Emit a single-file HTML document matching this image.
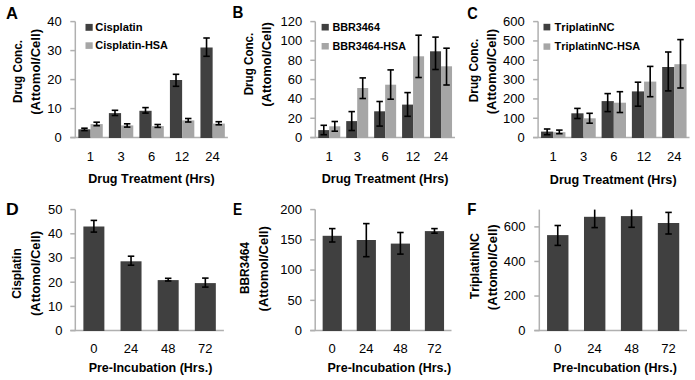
<!DOCTYPE html>
<html><head><meta charset="utf-8"><title>Figure</title>
<style>
html,body{margin:0;padding:0;background:#fff;width:695px;height:380px;overflow:hidden}
svg{display:block}
text{font-family:"Liberation Sans",sans-serif;font-kerning:none}
</style></head><body>
<svg width="695" height="380" viewBox="0 0 695 380">
<rect width="695" height="380" fill="#fff"/>
<line x1="75.3" y1="21.6" x2="75.3" y2="138.1" stroke="#b0b0b0" stroke-width="1.5"/>
<line x1="70.3" y1="137.6" x2="227.9" y2="137.6" stroke="#b0b0b0" stroke-width="1.5"/>
<rect x="78.36" y="129.3" width="12.2" height="8.7" fill="#404040"/>
<rect x="90.56" y="124.1" width="12.2" height="13.9" fill="#a6a6a6"/>
<rect x="108.88" y="113.1" width="12.2" height="24.9" fill="#404040"/>
<rect x="121.08" y="125.4" width="12.2" height="12.6" fill="#a6a6a6"/>
<rect x="139.4" y="110.8" width="12.2" height="27.2" fill="#404040"/>
<rect x="151.6" y="126.1" width="12.2" height="11.9" fill="#a6a6a6"/>
<rect x="169.92" y="80" width="12.2" height="58" fill="#404040"/>
<rect x="182.12" y="120.4" width="12.2" height="17.6" fill="#a6a6a6"/>
<rect x="200.44" y="47.5" width="12.2" height="90.5" fill="#404040"/>
<rect x="212.64" y="123.6" width="12.2" height="14.4" fill="#a6a6a6"/>
<line x1="84.46" y1="128.2" x2="84.46" y2="130.6" stroke="#000" stroke-width="1.6"/>
<line x1="81.21" y1="128.2" x2="87.71" y2="128.2" stroke="#000" stroke-width="1.6"/>
<line x1="81.21" y1="130.6" x2="87.71" y2="130.6" stroke="#000" stroke-width="1.6"/>
<line x1="96.66" y1="122.2" x2="96.66" y2="125.7" stroke="#000" stroke-width="1.6"/>
<line x1="93.41" y1="122.2" x2="99.91" y2="122.2" stroke="#000" stroke-width="1.6"/>
<line x1="93.41" y1="125.7" x2="99.91" y2="125.7" stroke="#000" stroke-width="1.6"/>
<line x1="114.98" y1="110.3" x2="114.98" y2="115.5" stroke="#000" stroke-width="1.6"/>
<line x1="111.73" y1="110.3" x2="118.23" y2="110.3" stroke="#000" stroke-width="1.6"/>
<line x1="111.73" y1="115.5" x2="118.23" y2="115.5" stroke="#000" stroke-width="1.6"/>
<line x1="127.18" y1="123.8" x2="127.18" y2="127.1" stroke="#000" stroke-width="1.6"/>
<line x1="123.93" y1="123.8" x2="130.43" y2="123.8" stroke="#000" stroke-width="1.6"/>
<line x1="123.93" y1="127.1" x2="130.43" y2="127.1" stroke="#000" stroke-width="1.6"/>
<line x1="145.5" y1="107.6" x2="145.5" y2="113.1" stroke="#000" stroke-width="1.6"/>
<line x1="142.25" y1="107.6" x2="148.75" y2="107.6" stroke="#000" stroke-width="1.6"/>
<line x1="142.25" y1="113.1" x2="148.75" y2="113.1" stroke="#000" stroke-width="1.6"/>
<line x1="157.7" y1="124.5" x2="157.7" y2="127.4" stroke="#000" stroke-width="1.6"/>
<line x1="154.45" y1="124.5" x2="160.95" y2="124.5" stroke="#000" stroke-width="1.6"/>
<line x1="154.45" y1="127.4" x2="160.95" y2="127.4" stroke="#000" stroke-width="1.6"/>
<line x1="176.02" y1="74.3" x2="176.02" y2="86.3" stroke="#000" stroke-width="1.6"/>
<line x1="172.77" y1="74.3" x2="179.27" y2="74.3" stroke="#000" stroke-width="1.6"/>
<line x1="172.77" y1="86.3" x2="179.27" y2="86.3" stroke="#000" stroke-width="1.6"/>
<line x1="188.22" y1="118.5" x2="188.22" y2="122" stroke="#000" stroke-width="1.6"/>
<line x1="184.97" y1="118.5" x2="191.47" y2="118.5" stroke="#000" stroke-width="1.6"/>
<line x1="184.97" y1="122" x2="191.47" y2="122" stroke="#000" stroke-width="1.6"/>
<line x1="206.54" y1="38" x2="206.54" y2="56.3" stroke="#000" stroke-width="1.6"/>
<line x1="203.29" y1="38" x2="209.79" y2="38" stroke="#000" stroke-width="1.6"/>
<line x1="203.29" y1="56.3" x2="209.79" y2="56.3" stroke="#000" stroke-width="1.6"/>
<line x1="218.74" y1="121.7" x2="218.74" y2="124.8" stroke="#000" stroke-width="1.6"/>
<line x1="215.49" y1="121.7" x2="221.99" y2="121.7" stroke="#000" stroke-width="1.6"/>
<line x1="215.49" y1="124.8" x2="221.99" y2="124.8" stroke="#000" stroke-width="1.6"/>
<line x1="70.3" y1="137.6" x2="75.3" y2="137.6" stroke="#b0b0b0" stroke-width="1.5"/>
<text transform="translate(54.58 141.9) scale(1.0400 1)" font-size="12.5" font-weight="normal" fill="#000">0</text>
<line x1="70.3" y1="108.6" x2="75.3" y2="108.6" stroke="#b0b0b0" stroke-width="1.5"/>
<text transform="translate(47.35 112.9) scale(1.0400 1)" font-size="12.5" font-weight="normal" fill="#000">10</text>
<line x1="70.3" y1="79.6" x2="75.3" y2="79.6" stroke="#b0b0b0" stroke-width="1.5"/>
<text transform="translate(47.35 83.9) scale(1.0400 1)" font-size="12.5" font-weight="normal" fill="#000">20</text>
<line x1="70.3" y1="50.6" x2="75.3" y2="50.6" stroke="#b0b0b0" stroke-width="1.5"/>
<text transform="translate(47.35 54.9) scale(1.0400 1)" font-size="12.5" font-weight="normal" fill="#000">30</text>
<line x1="70.3" y1="21.6" x2="75.3" y2="21.6" stroke="#b0b0b0" stroke-width="1.5"/>
<text transform="translate(47.35 25.9) scale(1.0400 1)" font-size="12.5" font-weight="normal" fill="#000">40</text>
<text transform="translate(86.77 160.6) scale(1.0400 1)" font-size="12.5" font-weight="normal" fill="#000">1</text>
<text transform="translate(117.5 160.6) scale(1.0400 1)" font-size="12.5" font-weight="normal" fill="#000">3</text>
<text transform="translate(147.94 160.6) scale(1.0400 1)" font-size="12.5" font-weight="normal" fill="#000">6</text>
<text transform="translate(174.72 160.6) scale(1.0400 1)" font-size="12.5" font-weight="normal" fill="#000">12</text>
<text transform="translate(205.27 160.6) scale(1.0400 1)" font-size="12.5" font-weight="normal" fill="#000">24</text>
<text transform="translate(88.16 182.6) scale(1.0077 1)" font-size="12.5" font-weight="bold" fill="#000">Drug Treatment (Hrs)</text>
<text transform="translate(21.8 102.98) rotate(-90) scale(0.9741 1)" font-size="12" font-weight="bold" fill="#000">Drug Conc.</text>
<text transform="translate(39.6 114.75) rotate(-90) scale(1.0909 1)" font-size="12" font-weight="bold" fill="#000">(Attomol/Cell)</text>
<text transform="translate(5.89 18.5) scale(0.9509 1)" font-size="17.4" font-weight="bold" fill="#000">A</text>
<rect x="85.5" y="23.9" width="7.2" height="6.9" fill="#404040"/>
<text transform="translate(95.34 30.8) scale(1.0657 1)" font-size="10.5" font-weight="bold" fill="#000">Cisplatin</text>
<rect x="85.5" y="42.3" width="7.2" height="6.6" fill="#a6a6a6"/>
<text transform="translate(95.35 48.8) scale(1.0390 1)" font-size="10.5" font-weight="bold" fill="#000">Cisplatin-HSA</text>
<line x1="315.3" y1="21.6" x2="315.3" y2="138.1" stroke="#b0b0b0" stroke-width="1.5"/>
<line x1="310.3" y1="137.6" x2="455" y2="137.6" stroke="#b0b0b0" stroke-width="1.5"/>
<rect x="318.27" y="130.1" width="11" height="7.9" fill="#404040"/>
<rect x="329.27" y="126.3" width="11" height="11.7" fill="#a6a6a6"/>
<rect x="346.21" y="121.1" width="11" height="16.9" fill="#404040"/>
<rect x="357.21" y="88" width="11" height="50" fill="#a6a6a6"/>
<rect x="374.15" y="111.3" width="11" height="26.7" fill="#404040"/>
<rect x="385.15" y="84.7" width="11" height="53.3" fill="#a6a6a6"/>
<rect x="402.09" y="104.6" width="11" height="33.4" fill="#404040"/>
<rect x="413.09" y="56.3" width="11" height="81.7" fill="#a6a6a6"/>
<rect x="430.03" y="51.3" width="11" height="86.7" fill="#404040"/>
<rect x="441.03" y="66.3" width="11" height="71.7" fill="#a6a6a6"/>
<line x1="323.77" y1="125.3" x2="323.77" y2="134.7" stroke="#000" stroke-width="1.6"/>
<line x1="320.52" y1="125.3" x2="327.02" y2="125.3" stroke="#000" stroke-width="1.6"/>
<line x1="320.52" y1="134.7" x2="327.02" y2="134.7" stroke="#000" stroke-width="1.6"/>
<line x1="334.77" y1="121.5" x2="334.77" y2="131.2" stroke="#000" stroke-width="1.6"/>
<line x1="331.52" y1="121.5" x2="338.02" y2="121.5" stroke="#000" stroke-width="1.6"/>
<line x1="331.52" y1="131.2" x2="338.02" y2="131.2" stroke="#000" stroke-width="1.6"/>
<line x1="351.71" y1="111.6" x2="351.71" y2="130.5" stroke="#000" stroke-width="1.6"/>
<line x1="348.46" y1="111.6" x2="354.96" y2="111.6" stroke="#000" stroke-width="1.6"/>
<line x1="348.46" y1="130.5" x2="354.96" y2="130.5" stroke="#000" stroke-width="1.6"/>
<line x1="362.71" y1="77.9" x2="362.71" y2="98.5" stroke="#000" stroke-width="1.6"/>
<line x1="359.46" y1="77.9" x2="365.96" y2="77.9" stroke="#000" stroke-width="1.6"/>
<line x1="359.46" y1="98.5" x2="365.96" y2="98.5" stroke="#000" stroke-width="1.6"/>
<line x1="379.65" y1="101.5" x2="379.65" y2="126.1" stroke="#000" stroke-width="1.6"/>
<line x1="376.4" y1="101.5" x2="382.9" y2="101.5" stroke="#000" stroke-width="1.6"/>
<line x1="376.4" y1="126.1" x2="382.9" y2="126.1" stroke="#000" stroke-width="1.6"/>
<line x1="390.65" y1="69.9" x2="390.65" y2="99.2" stroke="#000" stroke-width="1.6"/>
<line x1="387.4" y1="69.9" x2="393.9" y2="69.9" stroke="#000" stroke-width="1.6"/>
<line x1="387.4" y1="99.2" x2="393.9" y2="99.2" stroke="#000" stroke-width="1.6"/>
<line x1="407.59" y1="92.6" x2="407.59" y2="116.3" stroke="#000" stroke-width="1.6"/>
<line x1="404.34" y1="92.6" x2="410.84" y2="92.6" stroke="#000" stroke-width="1.6"/>
<line x1="404.34" y1="116.3" x2="410.84" y2="116.3" stroke="#000" stroke-width="1.6"/>
<line x1="418.59" y1="35.2" x2="418.59" y2="77.5" stroke="#000" stroke-width="1.6"/>
<line x1="415.34" y1="35.2" x2="421.84" y2="35.2" stroke="#000" stroke-width="1.6"/>
<line x1="415.34" y1="77.5" x2="421.84" y2="77.5" stroke="#000" stroke-width="1.6"/>
<line x1="435.53" y1="37.1" x2="435.53" y2="69.5" stroke="#000" stroke-width="1.6"/>
<line x1="432.28" y1="37.1" x2="438.78" y2="37.1" stroke="#000" stroke-width="1.6"/>
<line x1="432.28" y1="69.5" x2="438.78" y2="69.5" stroke="#000" stroke-width="1.6"/>
<line x1="446.53" y1="48.2" x2="446.53" y2="85" stroke="#000" stroke-width="1.6"/>
<line x1="443.28" y1="48.2" x2="449.78" y2="48.2" stroke="#000" stroke-width="1.6"/>
<line x1="443.28" y1="85" x2="449.78" y2="85" stroke="#000" stroke-width="1.6"/>
<line x1="310.3" y1="137.6" x2="315.3" y2="137.6" stroke="#b0b0b0" stroke-width="1.5"/>
<text transform="translate(294.88 141.9) scale(1.0400 1)" font-size="12.5" font-weight="normal" fill="#000">0</text>
<line x1="310.3" y1="118.27" x2="315.3" y2="118.27" stroke="#b0b0b0" stroke-width="1.5"/>
<text transform="translate(287.65 122.57) scale(1.0400 1)" font-size="12.5" font-weight="normal" fill="#000">20</text>
<line x1="310.3" y1="98.93" x2="315.3" y2="98.93" stroke="#b0b0b0" stroke-width="1.5"/>
<text transform="translate(287.65 103.23) scale(1.0400 1)" font-size="12.5" font-weight="normal" fill="#000">40</text>
<line x1="310.3" y1="79.6" x2="315.3" y2="79.6" stroke="#b0b0b0" stroke-width="1.5"/>
<text transform="translate(287.65 83.9) scale(1.0400 1)" font-size="12.5" font-weight="normal" fill="#000">60</text>
<line x1="310.3" y1="60.27" x2="315.3" y2="60.27" stroke="#b0b0b0" stroke-width="1.5"/>
<text transform="translate(287.65 64.57) scale(1.0400 1)" font-size="12.5" font-weight="normal" fill="#000">80</text>
<line x1="310.3" y1="40.93" x2="315.3" y2="40.93" stroke="#b0b0b0" stroke-width="1.5"/>
<text transform="translate(280.42 45.23) scale(1.0400 1)" font-size="12.5" font-weight="normal" fill="#000">100</text>
<line x1="310.3" y1="21.6" x2="315.3" y2="21.6" stroke="#b0b0b0" stroke-width="1.5"/>
<text transform="translate(280.42 25.9) scale(1.0400 1)" font-size="12.5" font-weight="normal" fill="#000">120</text>
<text transform="translate(325.48 160.8) scale(1.0400 1)" font-size="12.5" font-weight="normal" fill="#000">1</text>
<text transform="translate(353.63 160.8) scale(1.0400 1)" font-size="12.5" font-weight="normal" fill="#000">3</text>
<text transform="translate(381.49 160.8) scale(1.0400 1)" font-size="12.5" font-weight="normal" fill="#000">6</text>
<text transform="translate(405.69 160.8) scale(1.0400 1)" font-size="12.5" font-weight="normal" fill="#000">12</text>
<text transform="translate(433.66 160.8) scale(1.0400 1)" font-size="12.5" font-weight="normal" fill="#000">24</text>
<text transform="translate(321.65 183.2) scale(1.0109 1)" font-size="12.5" font-weight="bold" fill="#000">Drug Treatment (Hrs)</text>
<text transform="translate(253.3 95.28) rotate(-90) scale(0.9693 1)" font-size="12" font-weight="bold" fill="#000">Drug Conc.</text>
<text transform="translate(270.5 106.64) rotate(-90) scale(1.0728 1)" font-size="12" font-weight="bold" fill="#000">(Attomol/Cell)</text>
<text transform="translate(232.59 18.4) scale(0.8670 1)" font-size="17.4" font-weight="bold" fill="#000">B</text>
<rect x="321.6" y="23.9" width="7.2" height="6.6" fill="#404040"/>
<text transform="translate(332.38 30.5) scale(1.0320 1)" font-size="10.5" font-weight="bold" fill="#000">BBR3464</text>
<rect x="321.6" y="43" width="7.2" height="6.5" fill="#a6a6a6"/>
<text transform="translate(332.38 49.5) scale(1.0269 1)" font-size="10.5" font-weight="bold" fill="#000">BBR3464-HSA</text>
<line x1="538.1" y1="21.6" x2="538.1" y2="138.1" stroke="#b0b0b0" stroke-width="1.5"/>
<line x1="533.1" y1="137.6" x2="689.5" y2="137.6" stroke="#b0b0b0" stroke-width="1.5"/>
<rect x="541.04" y="131.6" width="12.2" height="6.4" fill="#404040"/>
<rect x="553.24" y="132.2" width="12.2" height="5.8" fill="#a6a6a6"/>
<rect x="571.32" y="113.3" width="12.2" height="24.7" fill="#404040"/>
<rect x="583.52" y="118.3" width="12.2" height="19.7" fill="#a6a6a6"/>
<rect x="601.6" y="101.1" width="12.2" height="36.9" fill="#404040"/>
<rect x="613.8" y="102.7" width="12.2" height="35.3" fill="#a6a6a6"/>
<rect x="631.88" y="91.4" width="12.2" height="46.6" fill="#404040"/>
<rect x="644.08" y="81.6" width="12.2" height="56.4" fill="#a6a6a6"/>
<rect x="662.16" y="67" width="12.2" height="71" fill="#404040"/>
<rect x="674.36" y="64.2" width="12.2" height="73.8" fill="#a6a6a6"/>
<line x1="547.14" y1="129" x2="547.14" y2="134.7" stroke="#000" stroke-width="1.6"/>
<line x1="543.89" y1="129" x2="550.39" y2="129" stroke="#000" stroke-width="1.6"/>
<line x1="543.89" y1="134.7" x2="550.39" y2="134.7" stroke="#000" stroke-width="1.6"/>
<line x1="559.34" y1="130.1" x2="559.34" y2="133.7" stroke="#000" stroke-width="1.6"/>
<line x1="556.09" y1="130.1" x2="562.59" y2="130.1" stroke="#000" stroke-width="1.6"/>
<line x1="556.09" y1="133.7" x2="562.59" y2="133.7" stroke="#000" stroke-width="1.6"/>
<line x1="577.42" y1="108.4" x2="577.42" y2="118.5" stroke="#000" stroke-width="1.6"/>
<line x1="574.17" y1="108.4" x2="580.67" y2="108.4" stroke="#000" stroke-width="1.6"/>
<line x1="574.17" y1="118.5" x2="580.67" y2="118.5" stroke="#000" stroke-width="1.6"/>
<line x1="589.62" y1="113.3" x2="589.62" y2="123.2" stroke="#000" stroke-width="1.6"/>
<line x1="586.37" y1="113.3" x2="592.87" y2="113.3" stroke="#000" stroke-width="1.6"/>
<line x1="586.37" y1="123.2" x2="592.87" y2="123.2" stroke="#000" stroke-width="1.6"/>
<line x1="607.7" y1="93.6" x2="607.7" y2="111.6" stroke="#000" stroke-width="1.6"/>
<line x1="604.45" y1="93.6" x2="610.95" y2="93.6" stroke="#000" stroke-width="1.6"/>
<line x1="604.45" y1="111.6" x2="610.95" y2="111.6" stroke="#000" stroke-width="1.6"/>
<line x1="619.9" y1="91.7" x2="619.9" y2="112.5" stroke="#000" stroke-width="1.6"/>
<line x1="616.65" y1="91.7" x2="623.15" y2="91.7" stroke="#000" stroke-width="1.6"/>
<line x1="616.65" y1="112.5" x2="623.15" y2="112.5" stroke="#000" stroke-width="1.6"/>
<line x1="637.98" y1="82.2" x2="637.98" y2="106.2" stroke="#000" stroke-width="1.6"/>
<line x1="634.73" y1="82.2" x2="641.23" y2="82.2" stroke="#000" stroke-width="1.6"/>
<line x1="634.73" y1="106.2" x2="641.23" y2="106.2" stroke="#000" stroke-width="1.6"/>
<line x1="650.18" y1="66.4" x2="650.18" y2="96.7" stroke="#000" stroke-width="1.6"/>
<line x1="646.93" y1="66.4" x2="653.43" y2="66.4" stroke="#000" stroke-width="1.6"/>
<line x1="646.93" y1="96.7" x2="653.43" y2="96.7" stroke="#000" stroke-width="1.6"/>
<line x1="668.26" y1="52" x2="668.26" y2="90.9" stroke="#000" stroke-width="1.6"/>
<line x1="665.01" y1="52" x2="671.51" y2="52" stroke="#000" stroke-width="1.6"/>
<line x1="665.01" y1="90.9" x2="671.51" y2="90.9" stroke="#000" stroke-width="1.6"/>
<line x1="680.46" y1="39.6" x2="680.46" y2="88" stroke="#000" stroke-width="1.6"/>
<line x1="677.21" y1="39.6" x2="683.71" y2="39.6" stroke="#000" stroke-width="1.6"/>
<line x1="677.21" y1="88" x2="683.71" y2="88" stroke="#000" stroke-width="1.6"/>
<line x1="533.1" y1="137.6" x2="538.1" y2="137.6" stroke="#b0b0b0" stroke-width="1.5"/>
<text transform="translate(517.58 141.9) scale(1.0400 1)" font-size="12.5" font-weight="normal" fill="#000">0</text>
<line x1="533.1" y1="118.27" x2="538.1" y2="118.27" stroke="#b0b0b0" stroke-width="1.5"/>
<text transform="translate(503.12 122.57) scale(1.0400 1)" font-size="12.5" font-weight="normal" fill="#000">100</text>
<line x1="533.1" y1="98.93" x2="538.1" y2="98.93" stroke="#b0b0b0" stroke-width="1.5"/>
<text transform="translate(503.12 103.23) scale(1.0400 1)" font-size="12.5" font-weight="normal" fill="#000">200</text>
<line x1="533.1" y1="79.6" x2="538.1" y2="79.6" stroke="#b0b0b0" stroke-width="1.5"/>
<text transform="translate(503.12 83.9) scale(1.0400 1)" font-size="12.5" font-weight="normal" fill="#000">300</text>
<line x1="533.1" y1="60.27" x2="538.1" y2="60.27" stroke="#b0b0b0" stroke-width="1.5"/>
<text transform="translate(503.12 64.57) scale(1.0400 1)" font-size="12.5" font-weight="normal" fill="#000">400</text>
<line x1="533.1" y1="40.93" x2="538.1" y2="40.93" stroke="#b0b0b0" stroke-width="1.5"/>
<text transform="translate(503.12 45.23) scale(1.0400 1)" font-size="12.5" font-weight="normal" fill="#000">500</text>
<line x1="533.1" y1="21.6" x2="538.1" y2="21.6" stroke="#b0b0b0" stroke-width="1.5"/>
<text transform="translate(503.12 25.9) scale(1.0400 1)" font-size="12.5" font-weight="normal" fill="#000">600</text>
<text transform="translate(549.45 160.6) scale(1.0400 1)" font-size="12.5" font-weight="normal" fill="#000">1</text>
<text transform="translate(579.94 160.6) scale(1.0400 1)" font-size="12.5" font-weight="normal" fill="#000">3</text>
<text transform="translate(610.14 160.6) scale(1.0400 1)" font-size="12.5" font-weight="normal" fill="#000">6</text>
<text transform="translate(636.68 160.6) scale(1.0400 1)" font-size="12.5" font-weight="normal" fill="#000">12</text>
<text transform="translate(666.99 160.6) scale(1.0400 1)" font-size="12.5" font-weight="normal" fill="#000">24</text>
<text transform="translate(549.86 183.5) scale(1.0085 1)" font-size="12.5" font-weight="bold" fill="#000">Drug Treatment (Hrs)</text>
<text transform="translate(477.8 102.19) rotate(-90) scale(0.9820 1)" font-size="12" font-weight="bold" fill="#000">Drug Conc.</text>
<text transform="translate(495.5 114.35) rotate(-90) scale(1.0857 1)" font-size="12" font-weight="bold" fill="#000">(Attomol/Cell)</text>
<text transform="translate(467.3 18.5) scale(0.8351 1)" font-size="17.4" font-weight="bold" fill="#000">C</text>
<rect x="543.5" y="23.8" width="6.8" height="6.6" fill="#404040"/>
<text transform="translate(554.57 30.5) scale(1.0610 1)" font-size="10.5" font-weight="bold" fill="#000">TriplatinNC</text>
<rect x="543.5" y="43.4" width="6.8" height="6.4" fill="#a6a6a6"/>
<text transform="translate(554.58 49.8) scale(1.0397 1)" font-size="10.5" font-weight="bold" fill="#000">TriplatinNC-HSA</text>
<line x1="75.3" y1="209.6" x2="75.3" y2="331.1" stroke="#b0b0b0" stroke-width="1.5"/>
<line x1="70.3" y1="330.6" x2="223.9" y2="330.6" stroke="#b0b0b0" stroke-width="1.5"/>
<rect x="83.38" y="226.5" width="21" height="104.5" fill="#404040"/>
<rect x="120.53" y="261.3" width="21" height="69.7" fill="#404040"/>
<rect x="157.68" y="280.1" width="21" height="50.9" fill="#404040"/>
<rect x="194.83" y="283.1" width="21" height="47.9" fill="#404040"/>
<line x1="93.88" y1="220.4" x2="93.88" y2="232.1" stroke="#000" stroke-width="1.6"/>
<line x1="90.62" y1="220.4" x2="97.12" y2="220.4" stroke="#000" stroke-width="1.6"/>
<line x1="90.62" y1="232.1" x2="97.12" y2="232.1" stroke="#000" stroke-width="1.6"/>
<line x1="131.03" y1="256.2" x2="131.03" y2="265.2" stroke="#000" stroke-width="1.6"/>
<line x1="127.78" y1="256.2" x2="134.28" y2="256.2" stroke="#000" stroke-width="1.6"/>
<line x1="127.78" y1="265.2" x2="134.28" y2="265.2" stroke="#000" stroke-width="1.6"/>
<line x1="168.18" y1="278.3" x2="168.18" y2="281" stroke="#000" stroke-width="1.6"/>
<line x1="164.93" y1="278.3" x2="171.43" y2="278.3" stroke="#000" stroke-width="1.6"/>
<line x1="164.93" y1="281" x2="171.43" y2="281" stroke="#000" stroke-width="1.6"/>
<line x1="205.33" y1="278.1" x2="205.33" y2="287.1" stroke="#000" stroke-width="1.6"/>
<line x1="202.08" y1="278.1" x2="208.58" y2="278.1" stroke="#000" stroke-width="1.6"/>
<line x1="202.08" y1="287.1" x2="208.58" y2="287.1" stroke="#000" stroke-width="1.6"/>
<line x1="70.3" y1="330.6" x2="75.3" y2="330.6" stroke="#b0b0b0" stroke-width="1.5"/>
<text transform="translate(55.18 334.9) scale(1.0400 1)" font-size="12.5" font-weight="normal" fill="#000">0</text>
<line x1="70.3" y1="306.4" x2="75.3" y2="306.4" stroke="#b0b0b0" stroke-width="1.5"/>
<text transform="translate(47.95 310.7) scale(1.0400 1)" font-size="12.5" font-weight="normal" fill="#000">10</text>
<line x1="70.3" y1="282.2" x2="75.3" y2="282.2" stroke="#b0b0b0" stroke-width="1.5"/>
<text transform="translate(47.95 286.5) scale(1.0400 1)" font-size="12.5" font-weight="normal" fill="#000">20</text>
<line x1="70.3" y1="258" x2="75.3" y2="258" stroke="#b0b0b0" stroke-width="1.5"/>
<text transform="translate(47.95 262.3) scale(1.0400 1)" font-size="12.5" font-weight="normal" fill="#000">30</text>
<line x1="70.3" y1="233.8" x2="75.3" y2="233.8" stroke="#b0b0b0" stroke-width="1.5"/>
<text transform="translate(47.95 238.1) scale(1.0400 1)" font-size="12.5" font-weight="normal" fill="#000">40</text>
<line x1="70.3" y1="209.6" x2="75.3" y2="209.6" stroke="#b0b0b0" stroke-width="1.5"/>
<text transform="translate(47.95 213.9) scale(1.0400 1)" font-size="12.5" font-weight="normal" fill="#000">50</text>
<text transform="translate(90.26 353.3) scale(1.0400 1)" font-size="12.5" font-weight="normal" fill="#000">0</text>
<text transform="translate(123.66 353.3) scale(1.0400 1)" font-size="12.5" font-weight="normal" fill="#000">24</text>
<text transform="translate(161.08 353.3) scale(1.0400 1)" font-size="12.5" font-weight="normal" fill="#000">48</text>
<text transform="translate(198.09 353.3) scale(1.0400 1)" font-size="12.5" font-weight="normal" fill="#000">72</text>
<text transform="translate(88.66 371.7) scale(1.0003 1)" font-size="12.5" font-weight="bold" fill="#000">Pre-Incubation (Hrs.)</text>
<text transform="translate(20.8 298.79) rotate(-90) scale(0.9973 1)" font-size="12" font-weight="bold" fill="#000">Cisplatin</text>
<text transform="translate(39.5 316.05) rotate(-90) scale(1.0818 1)" font-size="12" font-weight="bold" fill="#000">(Attomol/Cell)</text>
<text transform="translate(5.92 214.9) scale(1.0121 1)" font-size="17.4" font-weight="bold" fill="#000">D</text>
<line x1="315.2" y1="209.6" x2="315.2" y2="331.1" stroke="#b0b0b0" stroke-width="1.5"/>
<line x1="310.2" y1="330.6" x2="451.5" y2="330.6" stroke="#b0b0b0" stroke-width="1.5"/>
<rect x="322.64" y="235.8" width="19.2" height="95.2" fill="#404040"/>
<rect x="356.71" y="240" width="19.2" height="91" fill="#404040"/>
<rect x="390.79" y="243.6" width="19.2" height="87.4" fill="#404040"/>
<rect x="424.86" y="231.1" width="19.2" height="99.9" fill="#404040"/>
<line x1="332.24" y1="228.6" x2="332.24" y2="242" stroke="#000" stroke-width="1.6"/>
<line x1="328.99" y1="228.6" x2="335.49" y2="228.6" stroke="#000" stroke-width="1.6"/>
<line x1="328.99" y1="242" x2="335.49" y2="242" stroke="#000" stroke-width="1.6"/>
<line x1="366.31" y1="223.6" x2="366.31" y2="256.7" stroke="#000" stroke-width="1.6"/>
<line x1="363.06" y1="223.6" x2="369.56" y2="223.6" stroke="#000" stroke-width="1.6"/>
<line x1="363.06" y1="256.7" x2="369.56" y2="256.7" stroke="#000" stroke-width="1.6"/>
<line x1="400.39" y1="232.5" x2="400.39" y2="254.1" stroke="#000" stroke-width="1.6"/>
<line x1="397.14" y1="232.5" x2="403.64" y2="232.5" stroke="#000" stroke-width="1.6"/>
<line x1="397.14" y1="254.1" x2="403.64" y2="254.1" stroke="#000" stroke-width="1.6"/>
<line x1="434.46" y1="228.6" x2="434.46" y2="233.2" stroke="#000" stroke-width="1.6"/>
<line x1="431.21" y1="228.6" x2="437.71" y2="228.6" stroke="#000" stroke-width="1.6"/>
<line x1="431.21" y1="233.2" x2="437.71" y2="233.2" stroke="#000" stroke-width="1.6"/>
<line x1="310.2" y1="330.6" x2="315.2" y2="330.6" stroke="#b0b0b0" stroke-width="1.5"/>
<text transform="translate(294.78 334.9) scale(1.0400 1)" font-size="12.5" font-weight="normal" fill="#000">0</text>
<line x1="310.2" y1="300.35" x2="315.2" y2="300.35" stroke="#b0b0b0" stroke-width="1.5"/>
<text transform="translate(287.55 304.65) scale(1.0400 1)" font-size="12.5" font-weight="normal" fill="#000">50</text>
<line x1="310.2" y1="270.1" x2="315.2" y2="270.1" stroke="#b0b0b0" stroke-width="1.5"/>
<text transform="translate(280.32 274.4) scale(1.0400 1)" font-size="12.5" font-weight="normal" fill="#000">100</text>
<line x1="310.2" y1="239.85" x2="315.2" y2="239.85" stroke="#b0b0b0" stroke-width="1.5"/>
<text transform="translate(280.32 244.15) scale(1.0400 1)" font-size="12.5" font-weight="normal" fill="#000">150</text>
<line x1="310.2" y1="209.6" x2="315.2" y2="209.6" stroke="#b0b0b0" stroke-width="1.5"/>
<text transform="translate(280.32 213.9) scale(1.0400 1)" font-size="12.5" font-weight="normal" fill="#000">200</text>
<text transform="translate(328.62 353.3) scale(1.0400 1)" font-size="12.5" font-weight="normal" fill="#000">0</text>
<text transform="translate(358.95 353.3) scale(1.0400 1)" font-size="12.5" font-weight="normal" fill="#000">24</text>
<text transform="translate(393.29 353.3) scale(1.0400 1)" font-size="12.5" font-weight="normal" fill="#000">48</text>
<text transform="translate(427.23 353.3) scale(1.0400 1)" font-size="12.5" font-weight="normal" fill="#000">72</text>
<text transform="translate(327.46 371.7) scale(1.0019 1)" font-size="12.5" font-weight="bold" fill="#000">Pre-Incubation (Hrs.)</text>
<text transform="translate(249.2 294.09) rotate(-90) scale(0.9879 1)" font-size="12" font-weight="bold" fill="#000">BBR3464</text>
<text transform="translate(267.5 311.45) rotate(-90) scale(1.0844 1)" font-size="12" font-weight="bold" fill="#000">(Attomol/Cell)</text>
<text transform="translate(232.88 215) scale(0.7888 1)" font-size="17.4" font-weight="bold" fill="#000">E</text>
<line x1="539.3" y1="209.6" x2="539.3" y2="331.1" stroke="#b0b0b0" stroke-width="1.5"/>
<line x1="534.3" y1="330.6" x2="687" y2="330.6" stroke="#b0b0b0" stroke-width="1.5"/>
<rect x="547.06" y="235.1" width="21.4" height="95.9" fill="#404040"/>
<rect x="583.99" y="216.8" width="21.4" height="114.2" fill="#404040"/>
<rect x="620.91" y="216.1" width="21.4" height="114.9" fill="#404040"/>
<rect x="657.84" y="223" width="21.4" height="108" fill="#404040"/>
<line x1="557.76" y1="225.5" x2="557.76" y2="245.4" stroke="#000" stroke-width="1.6"/>
<line x1="554.51" y1="225.5" x2="561.01" y2="225.5" stroke="#000" stroke-width="1.6"/>
<line x1="554.51" y1="245.4" x2="561.01" y2="245.4" stroke="#000" stroke-width="1.6"/>
<line x1="594.69" y1="209.6" x2="594.69" y2="227.6" stroke="#000" stroke-width="1.6"/>
<line x1="591.44" y1="227.6" x2="597.94" y2="227.6" stroke="#000" stroke-width="1.6"/>
<line x1="631.61" y1="209.6" x2="631.61" y2="227.3" stroke="#000" stroke-width="1.6"/>
<line x1="628.36" y1="227.3" x2="634.86" y2="227.3" stroke="#000" stroke-width="1.6"/>
<line x1="668.54" y1="212.4" x2="668.54" y2="234" stroke="#000" stroke-width="1.6"/>
<line x1="665.29" y1="212.4" x2="671.79" y2="212.4" stroke="#000" stroke-width="1.6"/>
<line x1="665.29" y1="234" x2="671.79" y2="234" stroke="#000" stroke-width="1.6"/>
<line x1="534.3" y1="330.6" x2="539.3" y2="330.6" stroke="#b0b0b0" stroke-width="1.5"/>
<text transform="translate(518.28 334.9) scale(1.0400 1)" font-size="12.5" font-weight="normal" fill="#000">0</text>
<line x1="534.3" y1="296.03" x2="539.3" y2="296.03" stroke="#b0b0b0" stroke-width="1.5"/>
<text transform="translate(503.82 300.33) scale(1.0400 1)" font-size="12.5" font-weight="normal" fill="#000">200</text>
<line x1="534.3" y1="261.46" x2="539.3" y2="261.46" stroke="#b0b0b0" stroke-width="1.5"/>
<text transform="translate(503.82 265.76) scale(1.0400 1)" font-size="12.5" font-weight="normal" fill="#000">400</text>
<line x1="534.3" y1="226.89" x2="539.3" y2="226.89" stroke="#b0b0b0" stroke-width="1.5"/>
<text transform="translate(503.82 231.19) scale(1.0400 1)" font-size="12.5" font-weight="normal" fill="#000">600</text>
<text transform="translate(554.15 353.3) scale(1.0400 1)" font-size="12.5" font-weight="normal" fill="#000">0</text>
<text transform="translate(587.32 353.3) scale(1.0400 1)" font-size="12.5" font-weight="normal" fill="#000">24</text>
<text transform="translate(624.52 353.3) scale(1.0400 1)" font-size="12.5" font-weight="normal" fill="#000">48</text>
<text transform="translate(661.3 353.3) scale(1.0400 1)" font-size="12.5" font-weight="normal" fill="#000">72</text>
<text transform="translate(552.96 371.8) scale(1.0044 1)" font-size="12.5" font-weight="bold" fill="#000">Pre-Incubation (Hrs.)</text>
<text transform="translate(478.8 299.34) rotate(-90) scale(1.0249 1)" font-size="12" font-weight="bold" fill="#000">TriplatinNC</text>
<text transform="translate(496.8 310.15) rotate(-90) scale(1.0922 1)" font-size="12" font-weight="bold" fill="#000">(Attomol/Cell)</text>
<text transform="translate(467.2 215) scale(0.8610 1)" font-size="17.4" font-weight="bold" fill="#000">F</text>
</svg>
</body></html>
